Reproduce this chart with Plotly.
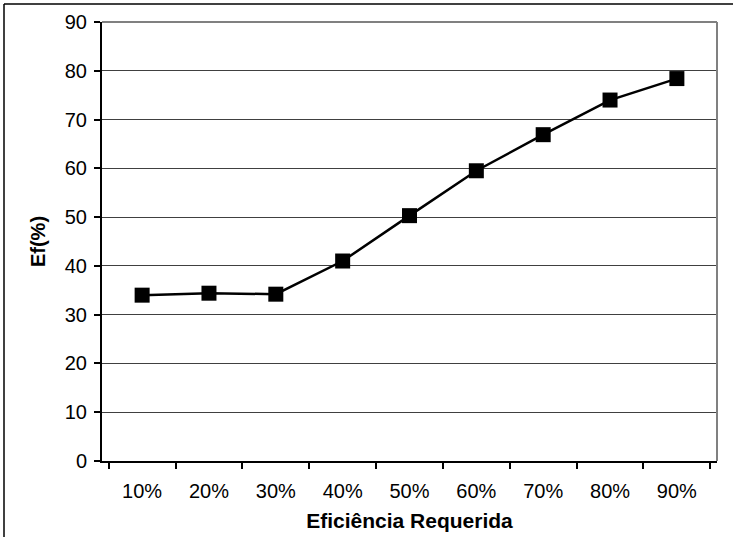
import plotly.graph_objects as go

# Required efficiency categories and the resulting Ef(%) values
categorias = ["10%", "20%", "30%", "40%", "50%", "60%", "70%", "80%", "90%"]
ef_valores = [34.0, 34.4, 34.2, 41.0, 50.3, 59.5, 66.9, 74.0, 78.4]

W, H = 738, 537
L, R, T, B = 102, 21, 22, 76
FONT = "Liberation Sans, Arial, sans-serif"

fig = go.Figure()
fig.add_trace(go.Scatter(
    x=categorias,
    y=ef_valores,
    mode="lines+markers",
    line=dict(color="black", width=2.5),
    marker=dict(symbol="square", size=15, color="black"),
    showlegend=False,
))

plot_w = W - L - R
plot_h = H - T - B


def px_x(p):
    return (p - L) / plot_w


def px_y(p):
    return (H - B - p) / plot_h


shapes = [
    # plot area border (top and right)
    dict(type="line", xref="paper", yref="paper", x0=0, x1=1, y0=1, y1=1,
         line=dict(color="#808080", width=2), layer="above"),
    dict(type="line", xref="paper", yref="paper", x0=1, x1=1, y0=0, y1=1,
         line=dict(color="#808080", width=2), layer="above"),
    # chart frame (left and top edges)
    dict(type="line", xref="paper", yref="paper", x0=px_x(4), x1=px_x(4),
         y0=px_y(H + 5), y1=px_y(4), line=dict(color="black", width=1.5)),
    dict(type="line", xref="paper", yref="paper", x0=px_x(4), x1=px_x(733),
         y0=px_y(4), y1=px_y(4), line=dict(color="black", width=1.5)),
]

fig.update_layout(
    width=W,
    height=H,
    margin=dict(l=L, r=R, t=T, b=B, pad=0, autoexpand=False),
    paper_bgcolor="white",
    plot_bgcolor="white",
    font=dict(family=FONT, size=20, color="black"),
    shapes=shapes,
    xaxis=dict(
        type="category",
        automargin=False,
        tickson="boundaries",
        ticks="outside",
        ticklen=6,
        tickwidth=1.5,
        tickcolor="black",
        showline=True,
        linecolor="black",
        linewidth=2,
        showgrid=False,
        tickfont=dict(size=20),
        ticklabelstandoff=11,
        title=dict(text="<b>Eficiência Requerida</b>", font=dict(size=21), standoff=12),
    ),
    yaxis=dict(
        range=[0, 90],
        dtick=10,
        automargin=False,
        ticks="outside",
        ticklen=6,
        tickwidth=1.5,
        tickcolor="black",
        showline=True,
        linecolor="black",
        linewidth=2,
        showgrid=True,
        gridcolor="#404040",
        gridwidth=1,
        zeroline=False,
        tickfont=dict(size=20),
        ticklabelstandoff=3,
        title=dict(text="<b>Ef(%)</b>", font=dict(size=20), standoff=14),
    ),
)

fig.write_html("out.html")
